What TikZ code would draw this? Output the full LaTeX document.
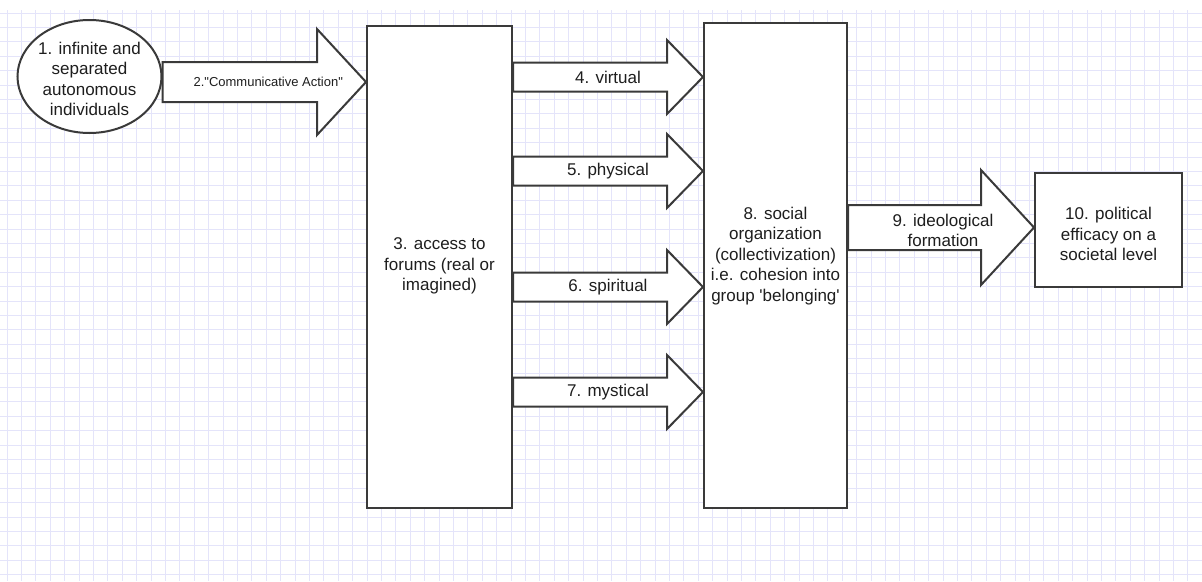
\documentclass[tikz,border=0pt]{standalone}
\usepackage{fontspec}
\setmainfont{Liberation Sans}
\usetikzlibrary{shapes.geometric,calc}
\definecolor{gridc}{RGB}{228,228,250}
\definecolor{linec}{RGB}{58,58,58}
\definecolor{txtc}{RGB}{30,30,30}
\tikzset{
  shapebox/.style={draw=linec,line width=2pt,fill=white,inner sep=0pt},
  blockarrow/.style={draw=linec,line width=2pt,fill=white,line join=miter},
  txt/.style={align=center,text=txtc,font=\fontsize{17}{20.5}\selectfont,inner sep=0pt},
  smalltxt/.style={align=center,text=txtc,font=\fontsize{13}{15}\selectfont,inner sep=0pt}
}
\newcommand{\barrow}[5]{%
  \draw[blockarrow] let \p1=#1, \p2=#2 in
   (\x1,\y1+#3) -- (\x2-#5,\y1+#3) -- (\x2-#5,\y1+#4) -- (\x2,\y1)
   -- (\x2-#5,\y1-#4) -- (\x2-#5,\y1-#3) -- (\x1,\y1-#3) -- cycle;}
\begin{document}
\begin{tikzpicture}[x=1pt,y=-1pt]
\fill[white] (0,0) rectangle (1202,581);
\useasboundingbox (0,0) rectangle (1202,581);
\begin{scope}
\clip (0,0) rectangle (1202,581);
\foreach \i in {0,...,83} \draw[gridc,line width=1pt] ({7+14.4*\i},10) -- ({7+14.4*\i},581);
\foreach \j in {0,...,40} \draw[gridc,line width=1pt] (0,{13+14.4*\j}) -- (1202,{13+14.4*\j});
\end{scope}

% nodes
\node[shapebox,ellipse,minimum width=144pt,minimum height=113pt] (n1) at (89.5,76.5) {};
\node[txt] (t1) at (89.5,79) {1. infinite and\\separated\\autonomous\\individuals};
\node[shapebox,minimum width=145pt,minimum height=482pt] (n3) at (439.5,267) {};
\node[txt] (t3) at (439.5,266) {3. access to\\forums (real or\\imagined)};
\node[shapebox,minimum width=143pt,minimum height=485pt] (n8) at (775.5,265.5) {};
\node[txt] (t8) at (775.5,256) {8. social\\organization\\(collectivization)\\i.e. cohesion into\\group \textquotesingle belonging\textquotesingle};
\node[shapebox,minimum width=147pt,minimum height=114pt] (n10) at (1108.5,230) {};
\node[txt] (t10) at (1108.5,234) {10. political\\efficacy on a\\societal level};

% anchor heights of the block arrows
\coordinate (a2) at (0,82);
\coordinate (a4) at (0,77);
\coordinate (a5) at (0,171);
\coordinate (a6) at (0,287);
\coordinate (a7) at (0,392);
\coordinate (a9) at (0,227.5);

% block arrows
\barrow{(n1.east |- a2)}{(n3.west |- a2)}{20pt}{53pt}{49pt}
\barrow{(n3.east |- a4)}{(n8.west |- a4)}{14.5pt}{37pt}{36pt}
\barrow{(n3.east |- a5)}{(n8.west |- a5)}{14.5pt}{37pt}{36pt}
\barrow{(n3.east |- a6)}{(n8.west |- a6)}{14.5pt}{37pt}{36pt}
\barrow{(n3.east |- a7)}{(n8.west |- a7)}{14.5pt}{37pt}{36pt}
\barrow{(n8.east |- a9)}{(n10.west |- a9)}{22.5pt}{57.5pt}{53pt}

% arrow labels
\node[smalltxt] (l2) at ($(n1.east |- a2)!0.5!(n3.west |- a2)+(4,0)$) {2.\textquotedbl Communicative Action\textquotedbl};
\node[txt] (l4) at ($(n3.east |- a4)!0.5!(n8.west |- a4)$) {4. virtual};
\node[txt] (l5) at ($(n3.east |- a5)!0.5!(n8.west |- a5)$) {5. physical};
\node[txt] (l6) at ($(n3.east |- a6)!0.5!(n8.west |- a6)$) {6. spiritual};
\node[txt] (l7) at ($(n3.east |- a7)!0.5!(n8.west |- a7)$) {7. mystical};
\node[txt] (l9) at ($(n8.east |- a9)!0.5!(n10.west |- a9)+(2,3)$) {9. ideological\\formation};
\end{tikzpicture}
\end{document}
